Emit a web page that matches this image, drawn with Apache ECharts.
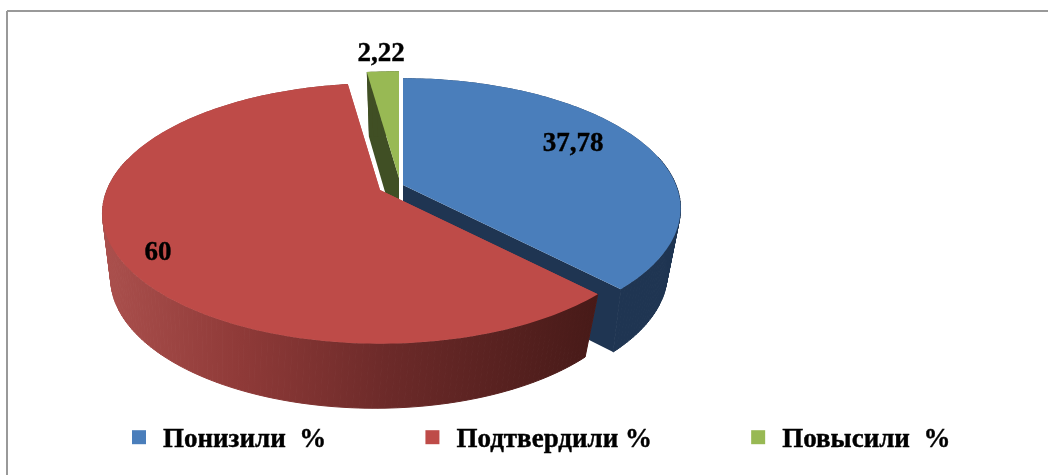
<!DOCTYPE html>
<html>
<head>
<meta charset="utf-8">
<style>
  html, body { margin: 0; padding: 0; background: #fff; }
  #chart { width: 1048px; height: 475px; }
</style>
<script src="https://cdn.jsdelivr.net/npm/echarts@6/dist/echarts.min.js"></script>
</head>
<body>
<div id="chart"></div>
<script>
const categories = ['Понизили  %', 'Подтвердили %', 'Повысили  %']
const values = [37.78, 60, 2.22]
const valueLabels = ['37,78', '60', '2,22']

const topColors = ['#4A7EBB', '#BE4B48', '#98B954']
const wallColors = ['#1F3552', '#BE4B48', '#404F24']

// each slice is pulled out on its own, so it has its own centre and label spot
const sliceCenters = [[403, 185], [380, 190], [399, 178]]
const bottomShifts = [0, -5, 0]
const labelSpots = [[573, 144], [158, 253], [381, 54]]
const drawOrder = [2, 0, 1]

// the disc is a circle seen in perspective, top and bottom planes differ a bit
const topPlane = { a: 273, b: 126, k: 0.18, drop: 0 }
const bottomPlane = { a: 259, b: 125, k: 0.2, drop: 62 }

const total = values.reduce((s, v) => s + v, 0)

function sliceAngles(i) {
  let start = 0
  for (let j = 0; j < i; j++) start += values[j]
  return [start / total * Math.PI * 2, (start + values[i]) / total * Math.PI * 2]
}

function project(center, plane, theta, r) {
  const u = r * Math.sin(theta)
  const v = -r * Math.cos(theta)
  const w = 1 - plane.k * v
  return [center[0] + plane.a * u / w, center[1] + plane.drop + plane.b * v / w]
}

function rimAngles(from, to) {
  const list = []
  const steps = Math.max(4, Math.ceil(Math.abs(to - from) / 0.02))
  for (let s = 0; s <= steps; s++) list.push(from + (to - from) * s / steps)
  return list
}

function wallFill(i) {
  if (i !== 1) return wallColors[i]
  // only the big red wall has visible shading, it darkens to the right
  return new echarts.graphic.LinearGradient(102, 0, 595, 0, [
    { offset: 0, color: '#AB504D' },
    { offset: 0.28, color: '#8F3A38' },
    { offset: 0.58, color: '#6C2A29' },
    { offset: 1, color: '#471A18' }
  ], true)
}

function renderSlice(i) {
  const [from, to] = sliceAngles(i)
  const c = sliceCenters[i]
  const cb = [c[0] + bottomShifts[i], c[1]]
  const angles = rimAngles(from, to)
  const topRim = angles.map(t => project(c, topPlane, t, 1))
  const bottomRim = angles.map(t => project(cb, bottomPlane, t, 1))
  const apexTop = project(c, topPlane, 0, 0)
  const apexBottom = project(cb, bottomPlane, 0, 0)

  const poly = (points, fill, stroke) => ({
    type: 'polygon',
    silent: true,
    shape: { points: points },
    style: stroke ? { fill: fill, stroke: stroke, lineWidth: 1 } : { fill: fill }
  })

  // the wall goes quad by quad, one outline would pinch where the two rims cross.
  // far side quads get no stroke or it shows around the top face
  const wall = []
  const fill = wallFill(i)
  for (let s = 0; s < topRim.length - 1; s++) {
    const near = -Math.cos(angles[s]) > -0.25
    wall.push(poly([topRim[s], topRim[s + 1], bottomRim[s + 1], bottomRim[s]], fill, near ? fill : null))
  }

  return {
    type: 'group',
    children: [
      // the two cut faces
      poly([apexTop, topRim[0], bottomRim[0], apexBottom], wallColors[i]),
      poly([apexTop, topRim[topRim.length - 1], bottomRim[bottomRim.length - 1], apexBottom], wallColors[i]),
      ...wall,
      // top face
      poly([apexTop].concat(topRim), topColors[i]),
      {
        type: 'text',
        silent: true,
        x: labelSpots[i][0],
        y: labelSpots[i][1],
        style: {
          text: valueLabels[i],
          fill: '#000',
          stroke: '#000',
          lineWidth: 0.4,
          font: 'bold 27px "Liberation Serif"',
          align: 'center',
          verticalAlign: 'middle'
        }
      }
    ]
  }
}

const chart = echarts.init(document.getElementById('chart'), null, { renderer: 'canvas' })

chart.setOption({
  animation: false,
  backgroundColor: '#fff',
  legend: {
    left: 132,
    top: 426,
    padding: 0,
    itemWidth: 14,
    itemHeight: 14,
    itemGap: 99,
    icon: 'rect',
    selectedMode: false,
    data: categories,
    formatter: name => '{t|' + name + '}',
    textStyle: {
      rich: {
        t: {
          fontFamily: 'Liberation Serif',
          fontWeight: 'bold',
          fontSize: 27,
          color: '#000',
          textBorderColor: '#000',
          textBorderWidth: 0.4,
          padding: [5, 0, 0, 12]
        }
      }
    }
  },
  graphic: [
    { type: 'line', silent: true, shape: { x1: 7, y1: 11, x2: 1048, y2: 11 }, style: { stroke: '#999', lineWidth: 2 } },
    { type: 'line', silent: true, shape: { x1: 7, y1: 11, x2: 7, y2: 475 }, style: { stroke: '#999', lineWidth: 2 } }
  ],
  series: drawOrder.map(i => ({
    type: 'custom',
    name: categories[i],
    coordinateSystem: 'none',
    z: drawOrder.indexOf(i) + 2,
    itemStyle: { color: topColors[i] },
    data: [values[i]],
    renderItem: () => renderSlice(i)
  }))
})

window.addEventListener('resize', () => chart.resize())
</script>
</body>
</html>
